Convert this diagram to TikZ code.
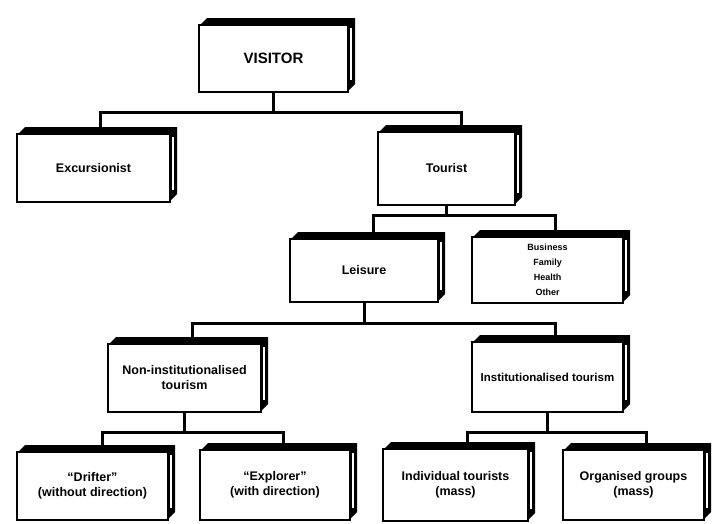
\documentclass[tikz,border=0pt]{standalone}
\usepackage{fontspec}
\setmainfont{Liberation Sans}
\tikzset{
  face/.style={draw=black, fill=white, line width=2.8pt, inner sep=0pt, align=center,
    font=\bfseries\fontsize{12.5}{15}\selectfont},
  link/.style={line width=3pt, line cap=rect}
}
\newcommand\tbox[6]{%
  \fill (#2,#3+8) -- (#2+8,#3) -- (#4,#3) -- (#4,#5-8) -- (#4-8,#5) -- cycle;
  \draw[white,line width=1.1pt] (#4-4,#3+10) -- (#4-4,#5-12);
  \node[face, minimum width={(#4-7-#2)*1pt}, minimum height={(#5-#3-7)*1pt}]
    (#1) at ({(#2+#4-7)/2},{(#3+7+#5)/2}) {#6};
}
\begin{document}
\begin{tikzpicture}[x=1pt,y=-1pt]
\useasboundingbox (0,0) rectangle (712,523);
% boxes
\tbox{vis}{199}{18}{355}{92}{\fontsize{15}{18}\selectfont VISITOR}
\tbox{exc}{17}{127}{177}{202}{Excursionist}
\tbox{tou}{378}{125}{522}{205}{Tourist}
\tbox{lei}{290}{232}{445}{302}{Leisure}
\tbox{bus}{472}{230}{630}{303}{\fontsize{9}{11.5}\selectfont Business\\ \fontsize{9}{11.5}\selectfont Family\\ \fontsize{9}{11.5}\selectfont Health\\ \fontsize{9}{11.5}\selectfont Other}
\tbox{non}{108}{337}{268}{412}{Non-institutionalised\\tourism}
\tbox{ins}{472}{335}{630}{412}{\fontsize{11.5}{14}\selectfont Institutionalised tourism}
\tbox{dri}{17}{445}{175}{520}{``Drifter''\\(without direction)}
\tbox{exp}{200}{443}{357}{520}{``Explorer''\\(with direction)}
\tbox{ind}{383}{442}{535}{521}{Individual tourists\\(mass)}
\tbox{org}{563}{443}{711}{520}{Organised groups\\(mass)}
% buses
\coordinate (b1) at (0,112);
\coordinate (b2) at (0,215);
\coordinate (b3) at (0,323);
\coordinate (b4) at (0,432);
% level 1
\draw[link] (vis.south) -- (vis.south |- b1);
\draw[link] ([xshift=7pt]exc.north) -- ([xshift=7pt]exc.north |- b1) -- ([xshift=15pt]tou.north |- b1) -- ([xshift=15pt]tou.north);
% level 2
\draw[link] (tou.south) -- (tou.south |- b2);
\draw[link] ([xshift=9pt]lei.north) -- ([xshift=9pt]lei.north |- b2) -- ([xshift=8pt]bus.north |- b2) -- ([xshift=8pt]bus.north);
% level 3
\draw[link] (lei.south) -- (lei.south |- b3);
\draw[link] ([xshift=8pt]non.north) -- ([xshift=8pt]non.north |- b3) -- ([xshift=8pt]ins.north |- b3) -- ([xshift=8pt]ins.north);
% level 4
\draw[link] (non.south) -- (non.south |- b4);
\draw[link] ([xshift=10pt]dri.north) -- ([xshift=10pt]dri.north |- b4) -- ([xshift=8pt]exp.north |- b4) -- ([xshift=8pt]exp.north);
\draw[link] (ins.south) -- (ins.south |- b4);
\draw[link] ([xshift=12pt]ind.north) -- ([xshift=12pt]ind.north |- b4) -- ([xshift=13pt]org.north |- b4) -- ([xshift=13pt]org.north);
\end{tikzpicture}
\end{document}
